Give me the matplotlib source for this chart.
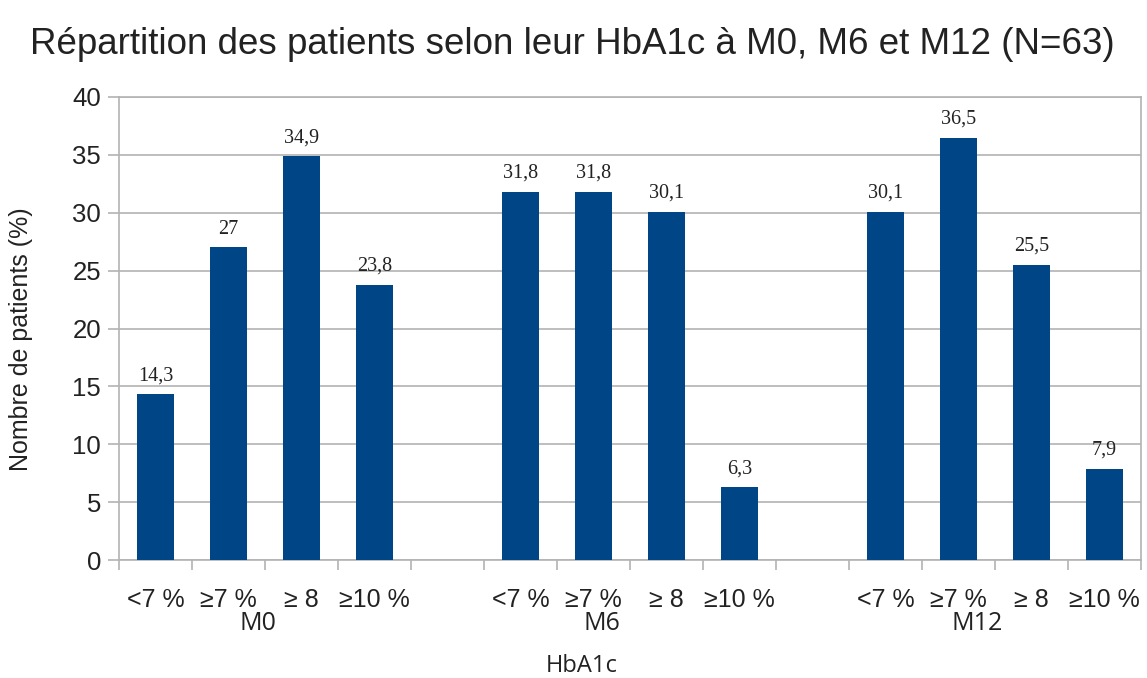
import matplotlib
matplotlib.use('Agg')
from matplotlib import pyplot as plt
import matplotlib.transforms as transforms

# --- DATA ------------------------------------------------------------+

groups = ['M0', 'M6', 'M12']
categories = ['<7 %', '≥7 %', '≥ 8', '≥10 %']
m0_values = [14.3, 27, 34.9, 23.8]
m6_values = [31.8, 31.8, 30.1, 6.3]
m12_values = [30.1, 36.5, 25.5, 7.9]
values = [m0_values, m6_values, m12_values]

# --- STYLE -----------------------------------------------------------+

bar_color = '#004586'
grid_color = '#b3b3b3'
text_color = '#222222'
sans = ['Liberation Sans', 'DejaVu Sans']
serif = ['Liberation Serif', 'DejaVu Serif']
calib = ['Open Sans', 'DejaVu Sans']
group_shift = [-0.1, -0.38, -0.25]  # group labels sit a bit left of centre

fig = plt.figure(figsize=(11.47, 6.78), dpi=100)
ax = fig.add_axes([119 / 1147, 1 - 560 / 678, (1141 - 119) / 1147, (560 - 97) / 678])

# PLOT BARS (each group takes 4 slots, 1 empty slot between groups)
slot = 0
centers = []
labels = []
group_centers = []
for g, vals in zip(groups, values):
    xs = [slot + i for i in range(len(vals))]
    ax.bar(xs, vals, width=0.5, color=bar_color, zorder=3)
    for x, v in zip(xs, vals):
        txt = ('%.1f' % v).replace('.', ',') if v != int(v) else str(int(v))
        ax.annotate(txt, (x, v), xytext=(0, 10), textcoords='offset points',
                    ha='center', va='baseline', fontsize=14.5,
                    family=serif, color=text_color)
    centers += xs
    labels += categories
    group_centers.append((xs[0] + xs[-1]) / 2)
    slot += len(vals) + 1

ax.set_xlim(-0.5, 13.5)
ax.set_ylim(0, 40)

# X TICKS
ax.set_xticks(centers)
ax.set_xticklabels(labels, fontsize=18, family=sans, color=text_color)
ax.tick_params(axis='x', which='major', length=0, pad=20)
minor = []
for start in [0, 5, 10]:
    minor += [start - 0.5 + i for i in range(5)]
ax.set_xticks(minor, minor=True)
ax.tick_params(axis='x', which='minor', length=7, color=grid_color, width=1.2)

# Y TICKS
ax.set_yticks(range(0, 41, 5))
ax.tick_params(axis='y', length=8, color=grid_color, width=1.2, pad=5,
               labelsize=18.5, labelcolor=text_color)
for lbl in ax.get_yticklabels():
    lbl.set_family(sans)

ax.grid(axis='y', color=grid_color, linewidth=1.2, zorder=0)
for s in ax.spines.values():
    s.set_color(grid_color)
    s.set_linewidth(1.2)

# GROUP LABELS
trans = transforms.blended_transform_factory(ax.transData, fig.transFigure)
for g, c, d in zip(groups, group_centers, group_shift):
    ax.text(c + d, 1 - 624 / 678, g, ha='center', va='center', fontsize=18,
            family=calib, color=text_color, transform=trans)

fig.text(582 / 1147, 1 - 666 / 678, 'HbA1c', ha='center', va='center',
         fontsize=17, family=calib, color=text_color)
fig.text(21 / 1147, 1 - 339 / 678, 'Nombre de patients (%)', ha='center',
         va='center', rotation=90, fontsize=18, family=sans, color=text_color)
fig.text(572 / 1147, 1 - 45 / 678,
         'Répartition des patients selon leur HbA1c à M0, M6 et M12 (N=63)',
         ha='center', va='center', fontsize=26.5, family=sans, color=text_color)

plt.savefig('out.png', dpi=100)
